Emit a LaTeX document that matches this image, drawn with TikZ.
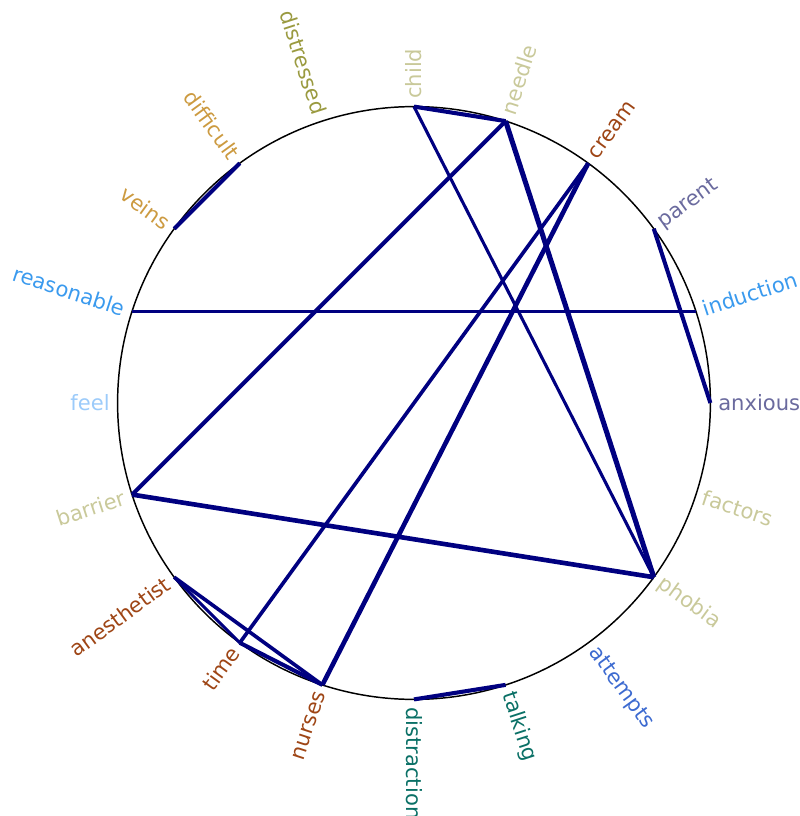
\documentclass[tikz,border=0pt]{standalone}
\usepackage{fontspec}
\setmainfont{DejaVu Sans}
\definecolor{khaki}{HTML}{C9C99A}
\definecolor{olive}{HTML}{9A9A40}
\definecolor{rust}{HTML}{9E4515}
\definecolor{slate}{HTML}{6A6A9E}
\definecolor{sky}{HTML}{3A9AEE}
\definecolor{pale}{HTML}{9CCBFA}
\definecolor{royal}{HTML}{3C6AD0}
\definecolor{teal}{HTML}{0A7066}
\definecolor{ochre}{HTML}{CC9A40}
\definecolor{navy}{HTML}{000080}
\begin{document}
\begin{tikzpicture}[
    word/.style={inner sep=0pt, font=\fontsize{15}{17}\selectfont},
    link/.style={navy, line width=#1},
    link/.default=2.9pt]
    \def\R{7.41}
    \def\g{0.19}
    \useasboundingbox (-10.35,-10.325) rectangle (9.65,10.075);
    % Ring
    \draw[line width=1.05pt] (0,0) circle (\R);

    % Words, right half
    \foreach \w/\a/\c in {distraction/-90/teal, talking/-72/teal, attempts/-54/royal,
        phobia/-36/khaki, factors/-18/khaki, anxious/0/slate, induction/18/sky,
        parent/36/slate, cream/54/rust, needle/72/khaki, child/90/khaki} {
        \coordinate (\w) at (\a:\R);
        \node[word, \c, anchor=west, rotate=\a] (l-\w) at (\a:\R+\g) {\w};
    }
    % Words, left half
    \foreach \w/\a/\c in {distressed/108/olive, difficult/126/ochre, veins/144/ochre,
        reasonable/162/sky, feel/180/pale, barrier/198/khaki, anesthetist/216/rust,
        time/234/rust, nurses/252/rust} {
        \coordinate (\w) at (\a:\R);
        \node[word, \c, anchor=east, rotate=\a-180] (l-\w) at (\a:\R+\g) {\w};
    }

    % Links
    \draw[link] (child) -- (needle);
    \draw[link=2.2pt] (child) -- (phobia);
    \draw[link=3.6pt] (needle) -- (phobia);
    \draw[link] (needle) -- (barrier);
    \draw[link=2.6pt] (cream) -- (time);
    \draw[link=3.3pt] (cream) -- (nurses);
    \draw[link] (parent) -- (anxious);
    \draw[link=2.2pt] (reasonable) -- (induction);
    \draw[link] (veins) -- (difficult);
    \draw[link=3.3pt] (barrier) -- (phobia);
    \draw[link=2.2pt] (anesthetist) -- (time);
    \draw[link=2.6pt] (anesthetist) -- (nurses);
    \draw[link] (time) -- (nurses);
    \draw[link] (distraction) -- (talking);
\end{tikzpicture}
\end{document}
